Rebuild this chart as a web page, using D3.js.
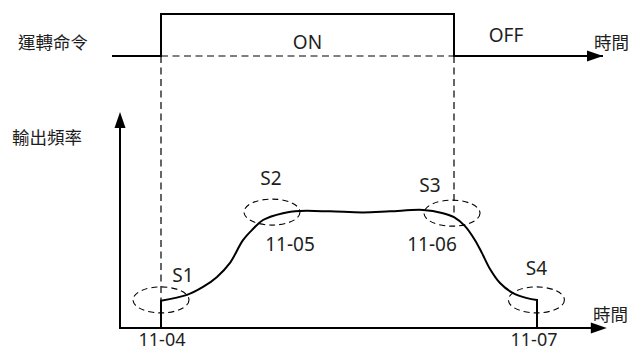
<!DOCTYPE html>
<html>
<head>
<meta charset="utf-8">
<script src="https://cdn.jsdelivr.net/npm/d3@7"></script>
<style>
  body { margin: 0; background: #fff; }
  text { font-family: "Noto Sans", "Noto Sans CJK TC", sans-serif; fill: #1e1e1e; }
</style>
</head>
<body>
<svg id="chart"></svg>
<script>
// run command signal (time, level 0/1)
const cmdTimes  = [-0.2, 1.025, 1.025, 8.35, 8.35, 12.075]
const cmdLevels = [0, 0, 1, 1, 0, 0]

// output frequency curve (time, Hz)
const freqTimes = [1.025, 1.025, 1.675, 2.075, 2.425, 2.75, 3.075, 3.325, 3.575, 4.075, 4.5, 5.25,
                   6.075, 6.75, 7.575, 8.075, 8.35, 8.625, 8.875, 9.05, 9.25, 9.5, 9.825, 10.175, 10.425, 10.425]
const freqValues = [0, 7.6, 9.2, 11.4, 14.2, 18.1, 24.4, 27.5, 30.0, 31.9, 32.5, 32.4,
                    32.1, 32.4, 32.8, 31.9, 30.8, 28.3, 24.4, 20.8, 16.4, 12.5, 9.7, 8.3, 7.8, 0]

// S-curve markers
const sLabels = ['S1', 'S2', 'S3', 'S4']
const sTimes  = [1.025, 3.8, 8.3, 10.41]
const sFreqs  = [7.8, 32.2, 31.9, 7.8]

// parameter labels
const paramLabels = ['11-04', '11-05', '11-06', '11-07']

const tOn = 1.025, tOff = 8.35, tEnd = 10.425, tAxisEnd = 12.17

const width = 630, height = 352

const svg = d3.select('#chart').attr('width', width).attr('height', height)

const x = d3.scaleLinear().domain([0, 12]).range([120, 600])
const yCmd = d3.scaleLinear().domain([0, 1]).range([56, 14])
const y = d3.scaleLinear().domain([0, 60]).range([328, 112])

const freqAt = t => {
    // nearest sampled frequency (used for dashed drop lines)
    let i = d3.bisectLeft(freqTimes.slice(1, -1), t) + 1
    return freqValues[Math.min(i, freqValues.length - 2)]
}

function arrowHead(g, tipX, tipY, dir) {
    const L = 16, W = 5.5
    let pts
    if (dir === 'right') pts = [[tipX, tipY], [tipX - L, tipY - W], [tipX - L, tipY + W]]
    else pts = [[tipX, tipY], [tipX - W, tipY + L], [tipX + W, tipY + L]]
    g.append('path').attr('d', 'M' + pts.join('L') + 'Z').attr('fill', '#000')
}

// dashed guide lines
const guides = svg.append('g')
    .attr('stroke', '#000').attr('stroke-width', 1.2).attr('stroke-dasharray', '7,4.5').attr('fill', 'none')
guides.append('line')
    .attr('x1', x(tOn)).attr('x2', x(tOff)).attr('y1', yCmd(0)).attr('y2', yCmd(0))
guides.append('line')
    .attr('x1', x(tOn)).attr('x2', x(tOn)).attr('y1', yCmd(0)).attr('y2', y(freqValues[1]))
guides.append('line')
    .attr('x1', x(tOff)).attr('x2', x(tOff)).attr('y1', yCmd(0)).attr('y2', y(freqAt(tOff)))

// command signal
const cmdData = cmdTimes.map((t, i) => [t, cmdLevels[i]])
svg.append('path')
    .datum(cmdData)
    .attr('d', d3.line().x(d => x(d[0])).y(d => yCmd(d[1])))
    .attr('fill', 'none').attr('stroke', '#000').attr('stroke-width', 2)
arrowHead(svg, x(cmdTimes[cmdTimes.length - 1]), yCmd(0), 'right')

// axes
svg.append('path')
    .attr('d', `M${x(0)},${y.range()[1] + 10}V${y(0)}H${x(tAxisEnd) - 10}`)
    .attr('fill', 'none').attr('stroke', '#000').attr('stroke-width', 2)
arrowHead(svg, x(tAxisEnd), y(0), 'right')
arrowHead(svg, x(0), y.range()[1], 'up')

// frequency curve: vertical steps + smooth middle
const fData = freqTimes.map((t, i) => [t, freqValues[i]])
const mid = fData.slice(1, -1)
const curvePath = d3.line().x(d => x(d[0])).y(d => y(d[1])).curve(d3.curveCatmullRom.alpha(0.5))(mid)
const first = fData[0], last = fData[fData.length - 1]
svg.append('path')
    .attr('d', `M${x(first[0])},${y(first[1])}L` + curvePath.slice(1) + `L${x(last[0])},${y(last[1])}`)
    .attr('fill', 'none').attr('stroke', '#000').attr('stroke-width', 2)

// S ellipses
const sOffsets = [[22, -18], [-1, -27], [-22, -21], [0, -25]]
const sGroup = svg.append('g')
sGroup.selectAll('ellipse')
    .data(sLabels)
    .join('ellipse')
    .attr('cx', (d, i) => x(sTimes[i]))
    .attr('cy', (d, i) => y(sFreqs[i]))
    .attr('rx', 28).attr('ry', 13)
    .attr('fill', 'none').attr('stroke', '#000').attr('stroke-width', 1.1)
    .attr('stroke-dasharray', '6,4')
sGroup.selectAll('text')
    .data(sLabels)
    .join('text')
    .attr('x', (d, i) => x(sTimes[i]) + sOffsets[i][0])
    .attr('y', (d, i) => y(sFreqs[i]) + sOffsets[i][1])
    .attr('text-anchor', 'middle')
    .attr('font-size', 19)
    .text(d => d)

// parameter labels
const paramPos = [
    [x(tOn) + 1, 346],
    [x(sTimes[1]) + 18, 251],
    [x(sTimes[2]) - 20, 251],
    [x(tEnd) - 3, 346]
]
svg.append('g').selectAll('text')
    .data(paramLabels)
    .join('text')
    .attr('x', (d, i) => paramPos[i][0])
    .attr('y', (d, i) => paramPos[i][1])
    .attr('text-anchor', 'middle')
    .attr('font-size', (d, i) => (i === 0 || i === 3) ? 18 : 19)
    .text(d => d)

// signal texts
svg.append('text').attr('x', x((tOn + tOff) / 2)).attr('y', 49)
    .attr('text-anchor', 'middle').attr('font-size', 19).text('ON')
svg.append('text').attr('x', 506).attr('y', 42)
    .attr('text-anchor', 'middle').attr('font-size', 19).text('OFF')

// CJK titles
const cjk = [
    ['運轉命令', 18, 42, 'start'],
    ['時間', 594, 42, 'start'],
    ['輸出頻率', 12, 137, 'start'],
    ['時間', 593, 314, 'start']
]
svg.append('g').selectAll('text')
    .data(cjk)
    .join('text')
    .attr('x', d => d[1]).attr('y', d => d[2])
    .attr('text-anchor', d => d[3])
    .attr('dominant-baseline', 'central')
    .attr('font-size', 17.5)
    .text(d => d[0])
</script>
</body>
</html>
